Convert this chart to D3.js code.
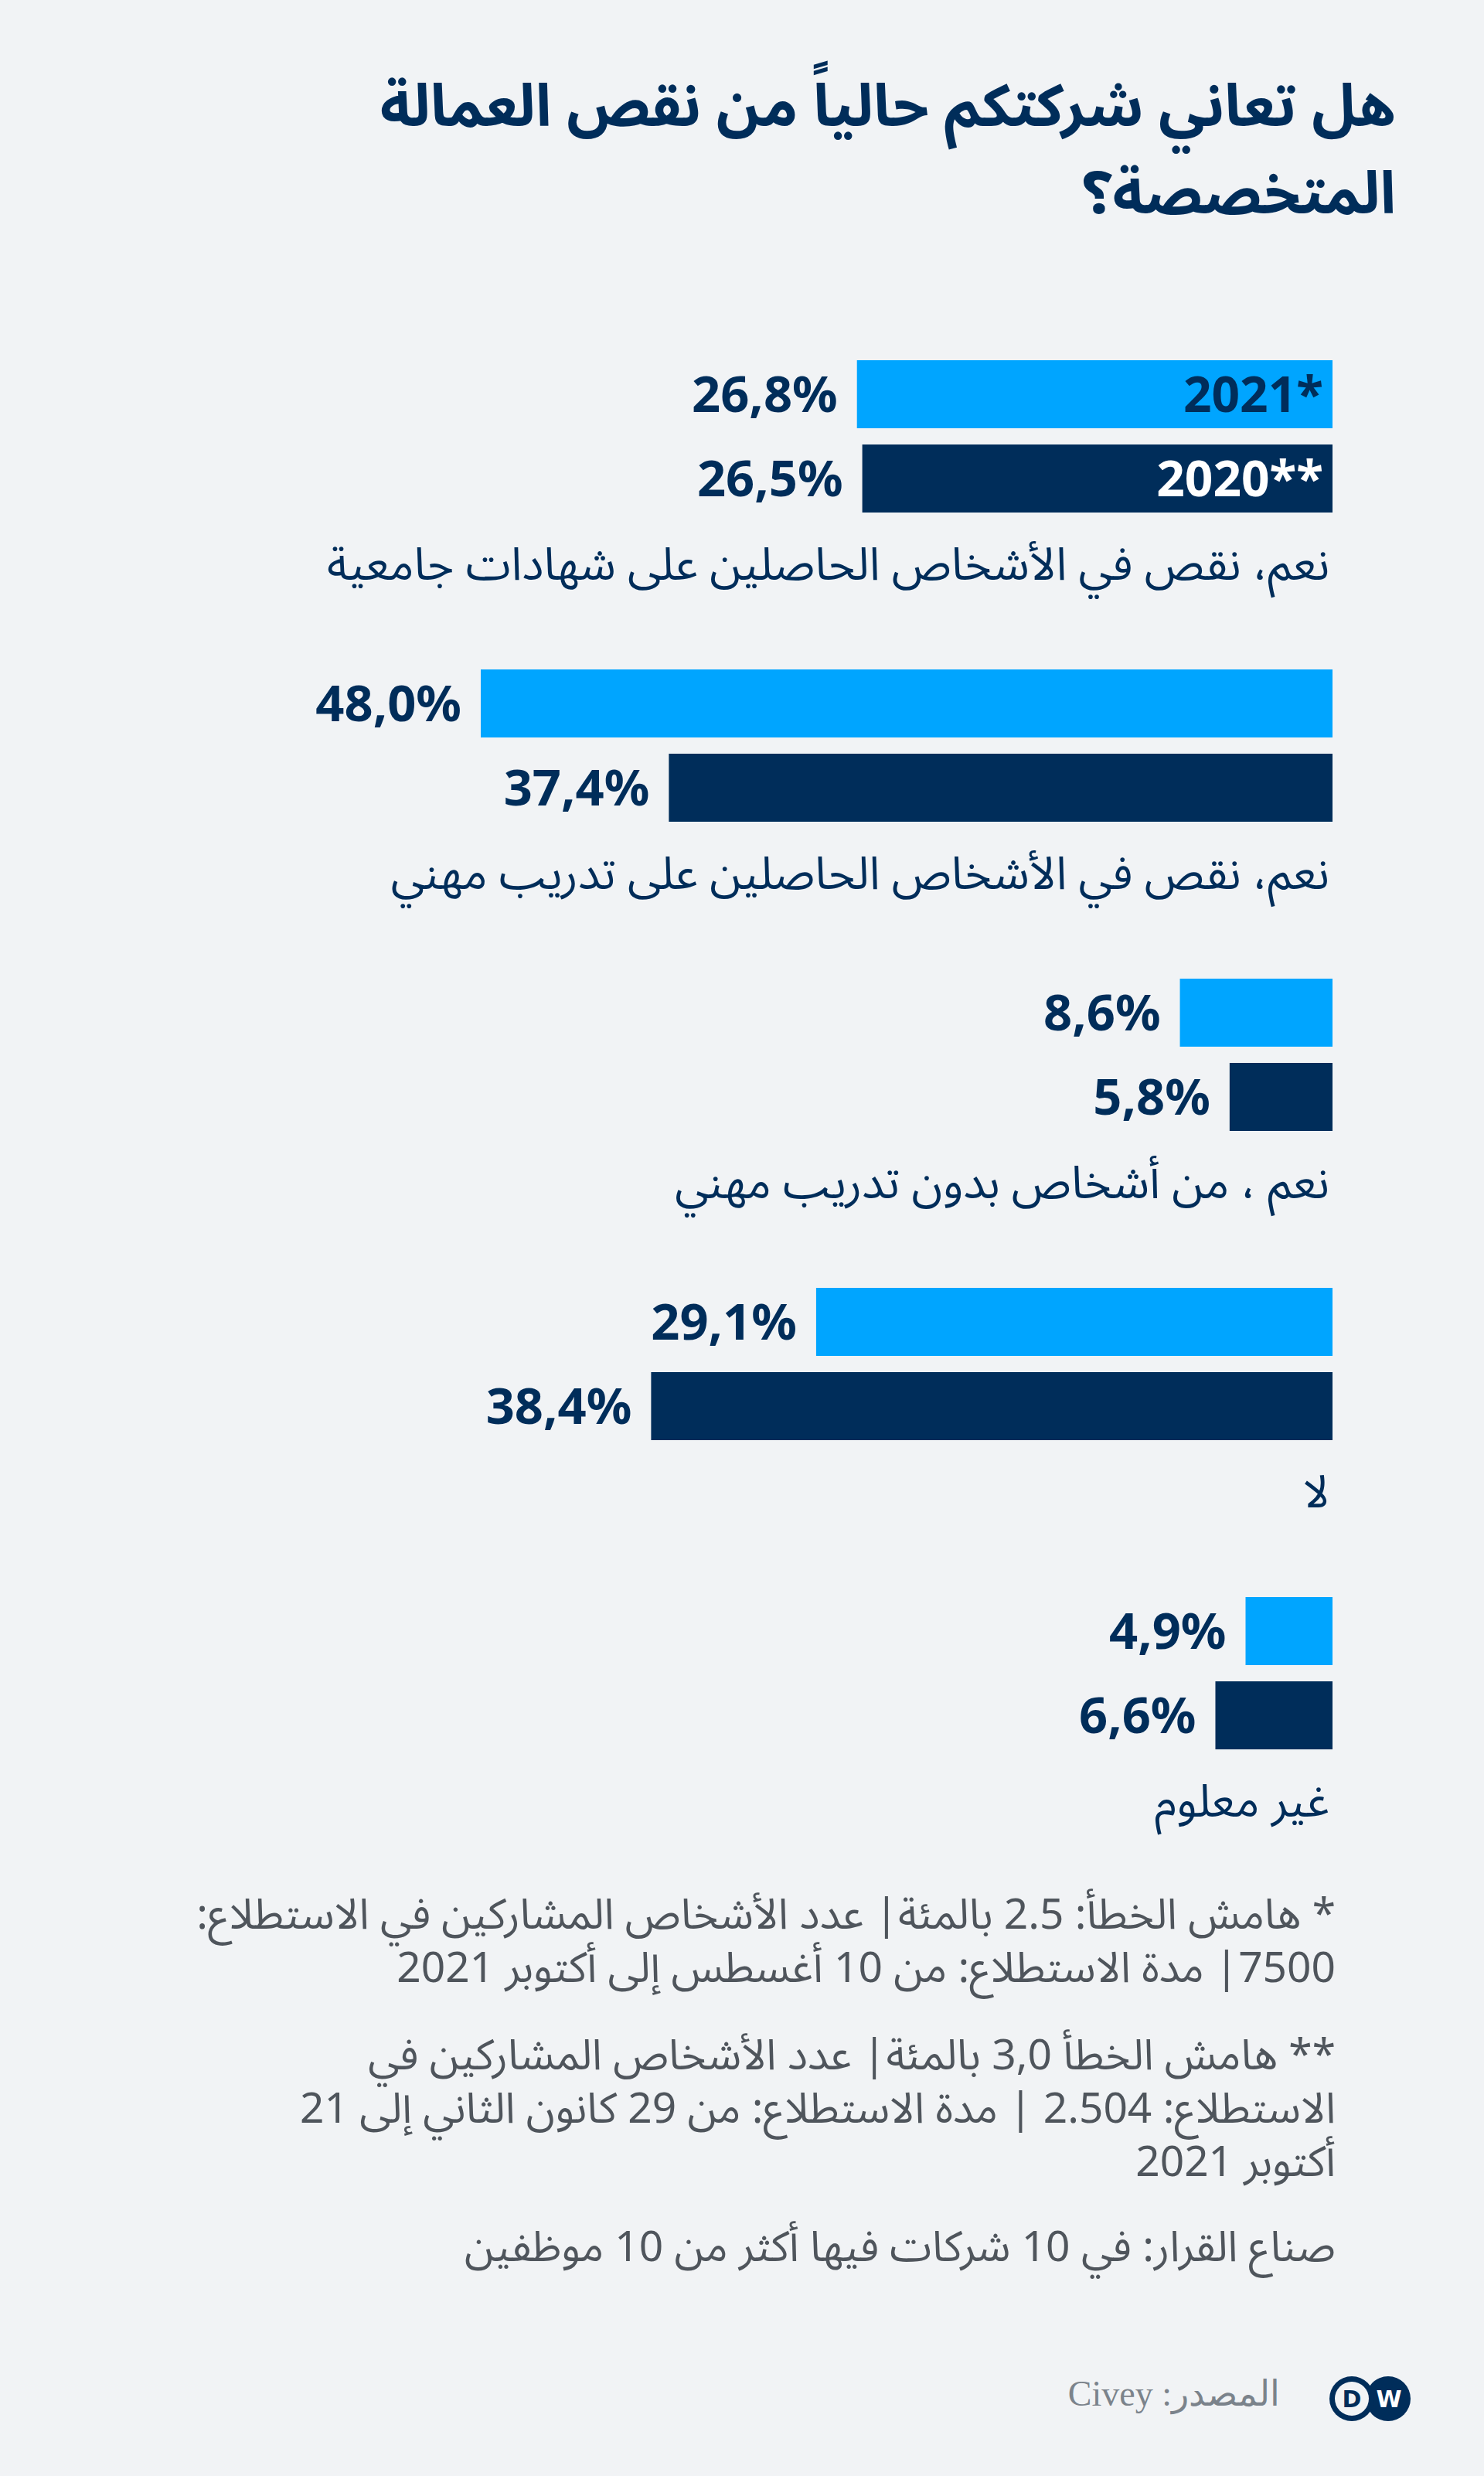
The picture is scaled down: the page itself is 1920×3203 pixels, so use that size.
<!DOCTYPE html>
<html lang="ar">
<head>
<meta charset="utf-8">
<script src="https://cdn.jsdelivr.net/npm/d3@7"></script>
<style>
  body { margin: 0; background: #f1f3f5; }
  svg { display: block; }
</style>
</head>
<body>
<svg id="chart"></svg>
<script>
'use strict';

// chart data
var categories = [
    'نعم، نقص في الأشخاص الحاصلين على شهادات جامعية',
    'نعم، نقص في الأشخاص الحاصلين على تدريب مهني',
    'نعم ، من أشخاص بدون تدريب مهني',
    'لا',
    'غير معلوم'
];
var years = ['2021*', '2020**'];
var values2021 = [26.8, 48.0, 8.6, 29.1, 4.9];
var values2020 = [26.5, 37.4, 5.8, 38.4, 6.6];

var titleLines = [
    'هل تعاني شركتكم حالياً من نقص العمالة',
    'المتخصصة؟'
];
var notes = [
    ['*  هامش الخطأ: 2.5 بالمئة| عدد الأشخاص المشاركين في الاستطلاع:',
     '7500| مدة الاستطلاع: من 10 أغسطس إلى أكتوبر 2021'],
    ['** هامش الخطأ 3,0 بالمئة| عدد الأشخاص المشاركين في',
     'الاستطلاع: 2.504 | مدة الاستطلاع: من 29 كانون الثاني إلى 21',
     'أكتوبر 2021'],
    ['صناع القرار: في 10 شركات فيها أكثر من 10 موظفين']
];
var source = 'المصدر: Civey';

// setup
var canvasWidth = 1920;
var canvasHeight = 3203;
var navy = '#002d5a';
var blue = '#00a5ff';
var arabicFont = '"Noto Sans", "Noto Sans Arabic", "Noto Naskh Arabic", "DejaVu Sans", sans-serif';

var svg = d3.select('#chart')
    .attr('width', canvasWidth)
    .attr('height', canvasHeight);

svg.append('rect')
    .attr('width', canvasWidth)
    .attr('height', canvasHeight)
    .attr('fill', '#f1f3f5');

// title
svg.selectAll('.title')
    .data(titleLines)
    .enter()
    .append('text')
    .attr('class', 'title')
    .attr('x', 1806)
    .attr('y', function (d, i) { return 163 + i * 113; })
    .attr('direction', 'rtl')
    .attr('text-anchor', 'start')
    .style('font-family', arabicFont)
    .style('font-weight', 'bold')
    .style('font-size', '76px')
    .attr('fill', navy)
    .text(function (d) { return d; });

// scales
var xScale = d3.scaleLinear()
    .domain([0, 48])
    .range([1724, 622]);

var yGroup = d3.scaleBand()
    .domain(categories)
    .range([466, 466 + 400 * categories.length])
    .paddingInner(0)
    .paddingOuter(0);

var yBar = d3.scaleBand()
    .domain(years)
    .range([0, 197])
    .paddingInner(21 / 109);

var fmt = d3.format('.1f');
function pct(v) {
    return fmt(v).replace('.', ',') + '%';
}

var rows = categories.map(function (c, i) {
    return {
        category: c,
        bars: [
            { year: years[0], value: values2021[i], color: blue, text: navy },
            { year: years[1], value: values2020[i], color: navy, text: '#ffffff' }
        ],
        first: i === 0
    };
});

var group = svg.selectAll('.group')
    .data(rows)
    .enter()
    .append('g')
    .attr('class', 'group')
    .attr('transform', function (d) { return 'translate(0,' + yGroup(d.category) + ')'; });

var bar = group.selectAll('.bar')
    .data(function (d) {
        return d.bars.map(function (b) { b.first = d.first; return b; });
    })
    .enter()
    .append('g')
    .attr('class', 'bar');

bar.append('rect')
    .attr('x', function (d) { return xScale(d.value); })
    .attr('y', function (d) { return yBar(d.year); })
    .attr('width', function (d) { return xScale(0) - xScale(d.value); })
    .attr('height', yBar.bandwidth())
    .attr('fill', function (d) { return d.color; });

// value labels
bar.append('text')
    .attr('x', function (d) { return xScale(d.value) - 25; })
    .attr('y', function (d) { return yBar(d.year) + yBar.bandwidth() / 2 + 23; })
    .attr('text-anchor', 'end')
    .style('font-family', '"Noto Sans", "Open Sans", sans-serif')
    .style('font-weight', 'bold')
    .style('font-size', '65px')
    .attr('fill', navy)
    .text(function (d) { return pct(d.value); });

// legend inside the first pair of bars
bar.filter(function (d) { return d.first; })
    .append('text')
    .attr('x', xScale(0) - 12)
    .attr('y', function (d) { return yBar(d.year) + yBar.bandwidth() / 2 + 23; })
    .attr('text-anchor', 'end')
    .style('font-family', '"Noto Sans", "Open Sans", sans-serif')
    .style('font-weight', 'bold')
    .style('font-size', '64px')
    .attr('fill', function (d) { return d.text; })
    .text(function (d) { return d.year; });

// category labels
group.append('text')
    .attr('x', 1720)
    .attr('y', 284)
    .attr('direction', 'rtl')
    .attr('text-anchor', 'start')
    .style('font-family', arabicFont)
    .style('font-size', '59px')
    .attr('fill', navy)
    .text(function (d) { return d.category; });

// footnotes
var noteTops = [2495, 2677, 2925];
notes.forEach(function (lines, n) {
    svg.selectAll('.note' + n)
        .data(lines)
        .enter()
        .append('text')
        .attr('class', 'note' + n)
        .attr('x', 1728)
        .attr('y', function (d, i) { return noteTops[n] + i * 69; })
        .attr('direction', 'rtl')
        .attr('text-anchor', 'start')
        .style('font-family', arabicFont)
        .style('font-size', '55px')
        .attr('fill', '#4f555c')
        .text(function (d) { return d; });
});

// source
svg.append('text')
    .attr('x', 1656)
    .attr('y', 3112)
    .attr('direction', 'rtl')
    .attr('text-anchor', 'start')
    .style('font-family', '"Liberation Serif", "DejaVu Serif", serif')
    .style('font-size', '46px')
    .attr('fill', '#7b838b')
    .text(source);

// DW logo
var logo = svg.append('g').attr('transform', 'translate(1749,3103)');
logo.append('circle').attr('cx', 47).attr('cy', 0).attr('r', 29).attr('fill', navy);
logo.append('circle').attr('cx', 0).attr('cy', 0).attr('r', 29).attr('fill', navy);
logo.append('circle').attr('cx', 0).attr('cy', 0).attr('r', 22).attr('fill', '#f1f3f5');
logo.append('text')
    .attr('x', 0).attr('y', 11)
    .attr('text-anchor', 'middle')
    .style('font-family', '"DejaVu Sans", sans-serif')
    .style('font-weight', 'bold')
    .style('font-size', '30px')
    .attr('fill', navy)
    .text('D');
logo.append('text')
    .attr('x', 48).attr('y', 11)
    .attr('text-anchor', 'middle')
    .style('font-family', '"DejaVu Sans", sans-serif')
    .style('font-weight', 'bold')
    .style('font-size', '30px')
    .attr('fill', '#ffffff')
    .text('W');
</script>
</body>
</html>
